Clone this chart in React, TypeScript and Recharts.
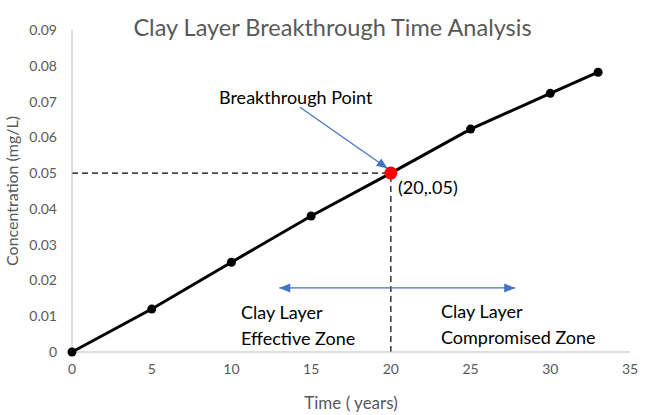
import { LineChart, Line, XAxis, YAxis, ReferenceLine, Label } from "recharts";

const years = [0, 5, 10, 15, 20, 25, 30, 33];
const concentration = [0, 0.012, 0.0251, 0.038, 0.05, 0.0623, 0.0723, 0.0782];
const xTicks = [0, 5, 10, 15, 20, 25, 30, 35];
const yTicks = [0, 0.01, 0.02, 0.03, 0.04, 0.05, 0.06, 0.07, 0.08, 0.09];

const breakX = 20;
const breakY = 0.05;
// arrow from the label to the breakthrough point
const pointerFrom = { x: 14.3, y: 0.0684 };
const pointerTo = { x: 19.8, y: 0.0513 };
// double arrow splitting the two zones
const zoneLeft = 13;
const zoneRight = 27.8;
const zoneY = 0.0179;

const data = years.map((x, i) => ({ x, y: concentration[i] }));

const font = "Lato, 'Open Sans', sans-serif";
const grey = "#595959";
const blue = "#4472C4";

const head = (x: number, y: number, ang: number, len = 11, w = 4.5) => {
  const bx = x - len * Math.cos(ang);
  const by = y - len * Math.sin(ang);
  const px = -Math.sin(ang) * w;
  const py = Math.cos(ang) * w;
  return `${x},${y} ${bx + px},${by + py} ${bx - px},${by - py}`;
};

const ArrowShape = (both: boolean) => (props: any) => {
  const { x1, y1, x2, y2 } = props;
  const ang = Math.atan2(y2 - y1, x2 - x1);
  return (
    <g>
      <line x1={x1} y1={y1} x2={x2} y2={y2} stroke={blue} strokeWidth={1.2} />
      <polygon points={head(x2, y2, ang)} fill={blue} />
      {both && <polygon points={head(x1, y1, ang + Math.PI)} fill={blue} />}
    </g>
  );
};

const renderDot = (props: any) => {
  const { cx, cy, payload, index } = props;
  if (payload.x === breakX) {
    return <circle key={`d${index}`} cx={cx} cy={cy} r={6.5} fill="#ff0000" />;
  }
  return <circle key={`d${index}`} cx={cx} cy={cy} r={4.5} fill="#000" />;
};

const textStyle: any = {
  position: "absolute",
  fontFamily: font,
  fontSize: 18,
  color: "#000",
  lineHeight: "26px",
  whiteSpace: "nowrap",
};

export default function App() {
  return (
    <div style={{ position: "absolute", left: 0, top: 0, width: 665, height: 415, background: "#fff" }}>
      <LineChart width={665} height={415} data={data} margin={{ top: 30, right: 35, bottom: 33, left: 12 }}>
        <XAxis
          dataKey="x"
          type="number"
          domain={[0, 35]}
          ticks={xTicks}
          tickLine={false}
          tickSize={0}
          tickMargin={12}
          height={30}
          axisLine={{ stroke: "#bfbfbf" }}
          tick={{ fill: grey, fontSize: 14, fontFamily: font }}
        >
          <Label value="Time ( years)" position="insideBottom" offset={-27} fill={grey} fontSize={17} fontFamily={font} />
        </XAxis>
        <YAxis
          type="number"
          domain={[0, 0.09]}
          ticks={yTicks}
          tickFormatter={(v: number) => (v === 0 ? "0" : v.toFixed(2))}
          tickLine={false}
          tickSize={0}
          tickMargin={15}
          width={60}
          axisLine={{ stroke: "#bfbfbf" }}
          tick={{ fill: grey, fontSize: 14, fontFamily: font }}
        >
          <Label
            value="Concentration (mg/L)"
            angle={-90}
            position="insideLeft"
            offset={0}
            style={{ textAnchor: "middle" }}
            fill={grey}
            fontSize={16}
            fontFamily={font}
          />
        </YAxis>
        <ReferenceLine
          segment={[{ x: 0, y: breakY }, { x: breakX, y: breakY }]}
          stroke="#000"
          strokeWidth={1.2}
          strokeDasharray="6 4"
        />
        <ReferenceLine
          segment={[{ x: breakX, y: 0 }, { x: breakX, y: breakY }]}
          stroke="#000"
          strokeWidth={1.2}
          strokeDasharray="6 4"
        />
        <ReferenceLine
          segment={[{ x: zoneLeft, y: zoneY }, { x: zoneRight, y: zoneY }]}
          shape={ArrowShape(true)}
        />
        <ReferenceLine
          segment={[pointerFrom, pointerTo]}
          shape={ArrowShape(false)}
        />
        <Line
          dataKey="y"
          stroke="#000"
          strokeWidth={3}
          dot={renderDot}
          activeDot={false}
          isAnimationActive={false}
        />
      </LineChart>
      <div
        style={{
          position: "absolute",
          left: 0,
          width: 665,
          top: 13,
          textAlign: "center",
          fontFamily: font,
          fontSize: 23.5,
          color: grey,
        }}
      >
        Clay Layer Breakthrough Time Analysis
      </div>
      <div style={{ ...textStyle, left: 219, top: 84 }}>Breakthrough Point</div>
      <div style={{ ...textStyle, left: 398, top: 174 }}>(20,.05)</div>
      <div style={{ ...textStyle, left: 241, top: 299 }}>
        Clay Layer
        <br />
        Effective Zone
      </div>
      <div style={{ ...textStyle, left: 441, top: 298 }}>
        Clay Layer
        <br />
        Compromised Zone
      </div>
    </div>
  );
}
